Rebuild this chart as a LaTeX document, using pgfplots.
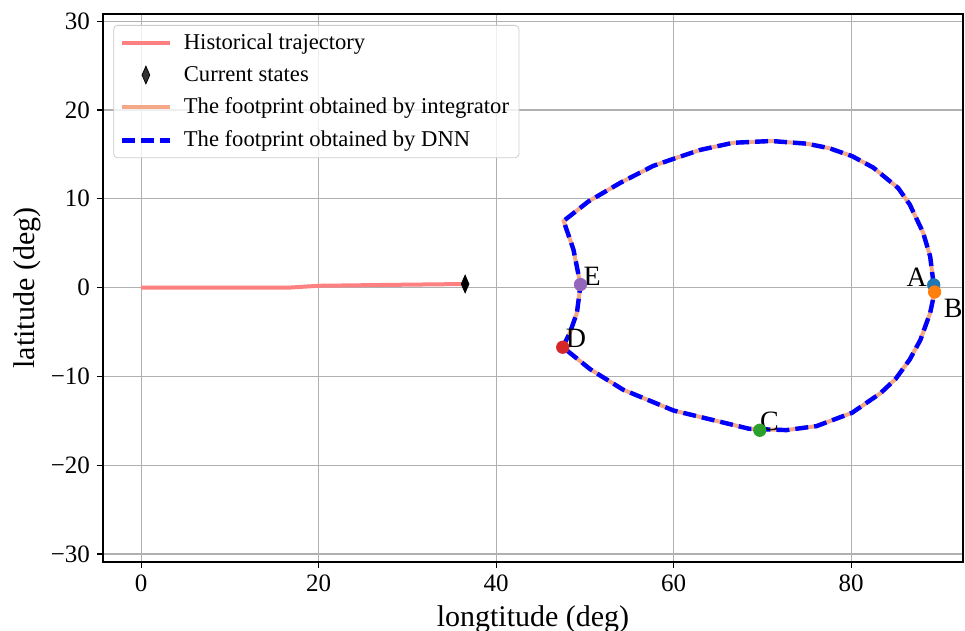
\documentclass[border=0pt]{standalone}
\usepackage{pgfplots}
\pgfplotsset{compat=1.18}
\usepackage{fontspec}
\setmainfont{Liberation Serif}
\definecolor{histc}{RGB}{255,128,128}
\definecolor{integc}{RGB}{245,168,135}
\definecolor{dnnc}{RGB}{0,0,255}
\definecolor{tabblue}{RGB}{31,119,180}
\definecolor{taborange}{RGB}{255,127,14}
\definecolor{tabgreen}{RGB}{44,160,44}
\definecolor{tabred}{RGB}{214,39,40}
\definecolor{tabpurple}{RGB}{148,103,189}
\begin{document}
\begin{tikzpicture}
\begin{axis}[
  scale only axis,
  width=430pt, height=274pt,
  xmin=-4.3, xmax=92.6, ymin=-30.9, ymax=30.8,
  xtick={0,20,40,60,80},
  ytick={-30,-20,-10,0,10,20,30},
  yticklabels={−30,−20,−10,0,10,20,30},
  /pgf/number format/assume math mode=true,
  tick label style={font=\fontsize{12.5}{14}\selectfont},
  tick align=outside, tick pos=left,
  major tick length=3pt,
  every tick/.style={black, line width=0.6pt},
  axis line style={line width=0.8pt},
  grid=major,
  major grid style={color=black!31, line width=0.6pt},
  xlabel={longtitude (deg)},
  ylabel={latitude (deg)},
  label style={font=\fontsize{15}{18}\selectfont},
  ylabel style={yshift=-2pt},
  legend cell align=left,
  legend style={at={(0.012,0.98)}, anchor=north west, rounded corners=2pt,
    draw=black!20, fill=white, fill opacity=0.8, text opacity=1,
    font=\fontsize{11.3}{13.5}\selectfont, inner xsep=3pt, inner ysep=2pt,
    row sep=3pt},
  legend image code/.code={\draw[mark repeat=2,mark phase=2,#1] plot coordinates {(0pt,0pt) (12pt,0pt) (24pt,0pt)};\path[draw=none,fill=none] (0pt,0pt) -- (29pt,0pt);},
]
\addplot[histc, line width=2pt] coordinates {
(0,0) (10,0) (16.8,0) (20,0.2) (28,0.3) (36.5,0.4)
};
\addlegendentry{Historical trajectory}
\addplot[only marks, color=black, mark=diamond*, mark size=4.4pt, mark options={xscale=0.58, fill=black, draw=black}] coordinates {(36.5,0.4)};
\addlegendentry{Current states}
\addplot[integc, line width=2pt] coordinates {
(89.3,0.3) (88.9,3.5) (88.1,6.2) (86.6,9.35) (85.3,11.2) (82.5,13.5) (80.1,14.8)
(77.5,15.7) (75.0,16.2) (71.0,16.5) (66.7,16.3) (63.0,15.5) (60.0,14.5) (57.7,13.7)
(54.0,11.8) (50.4,9.7) (47.6,7.5) (48.7,4.3) (49.5,0.3) (49.1,-2.85) (48.3,-5.1)
(47.5,-6.7) (50.6,-9.2) (54.3,-11.5) (60.0,-13.85) (65.6,-15.2) (68.5,-15.9)
(72.7,-16.05) (76.1,-15.6) (80.1,-14.1) (83.3,-11.9) (85.0,-10.3) (86.6,-8.1) (87.8,-5.9)
(88.9,-2.85) (89.4,-0.5) (89.3,0.3)
};
\addlegendentry{The footprint obtained by integrator}
\addplot[dnnc, line width=2.2pt, dash pattern=on 6.5pt off 3pt] coordinates {
(89.3,0.3) (88.9,3.5) (88.1,6.2) (86.6,9.35) (85.3,11.2) (82.5,13.5) (80.1,14.8)
(77.5,15.7) (75.0,16.2) (71.0,16.5) (66.7,16.3) (63.0,15.5) (60.0,14.5) (57.7,13.7)
(54.0,11.8) (50.4,9.7) (47.6,7.5) (48.7,4.3) (49.5,0.3) (49.1,-2.85) (48.3,-5.1)
(47.5,-6.7) (50.6,-9.2) (54.3,-11.5) (60.0,-13.85) (65.6,-15.2) (68.5,-15.9)
(72.7,-16.05) (76.1,-15.6) (80.1,-14.1) (83.3,-11.9) (85.0,-10.3) (86.6,-8.1) (87.8,-5.9)
(88.9,-2.85) (89.4,-0.5) (89.3,0.3)
};
\addlegendentry{The footprint obtained by DNN}
\addplot[only marks, color=tabblue, mark=*, mark size=3.1pt, mark options={draw=tabblue, fill=tabblue}, forget plot] coordinates {(89.3,0.3)};
\addplot[only marks, color=taborange, mark=*, mark size=3.1pt, mark options={draw=taborange, fill=taborange}, forget plot] coordinates {(89.4,-0.5)};
\addplot[only marks, color=tabgreen, mark=*, mark size=3.1pt, mark options={draw=tabgreen, fill=tabgreen}, forget plot] coordinates {(69.7,-16.07)};
\addplot[only marks, color=tabred, mark=*, mark size=3.1pt, mark options={draw=tabred, fill=tabred}, forget plot] coordinates {(47.5,-6.72)};
\addplot[only marks, color=tabpurple, mark=*, mark size=3.1pt, mark options={draw=tabpurple, fill=tabpurple}, forget plot] coordinates {(49.5,0.34)};
\node[anchor=base east, inner sep=0pt, font=\fontsize{14}{16}\selectfont] at (axis cs:88.56,0.11) {A};
\node[anchor=base west, inner sep=0pt, font=\fontsize{14}{16}\selectfont] at (axis cs:90.4,-3.4) {B};
\node[anchor=base west, inner sep=0pt, font=\fontsize{14}{16}\selectfont] at (axis cs:69.7,-16.1) {C};
\node[anchor=base west, inner sep=0pt, font=\fontsize{14}{16}\selectfont] at (axis cs:47.8,-6.76) {D};
\node[anchor=base west, inner sep=0pt, font=\fontsize{14}{16}\selectfont] at (axis cs:49.8,0.2) {E};
\end{axis}
\pgfresetboundingbox
\path ([shift={(-51.5pt,-34.5pt)}]current axis.south west) rectangle ([shift={(1pt,7pt)}]current axis.north east);
\end{tikzpicture}
\end{document}
